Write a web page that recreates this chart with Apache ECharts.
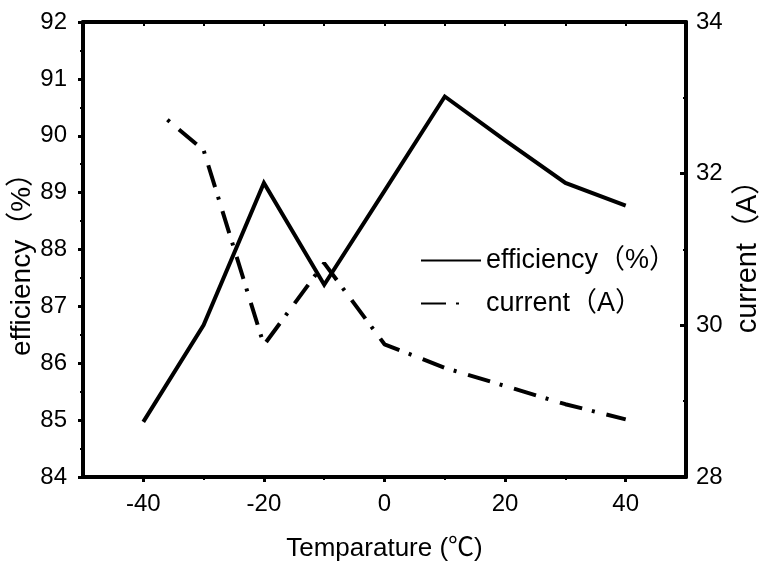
<!DOCTYPE html>
<html><head><meta charset="utf-8">
<script src="https://cdn.jsdelivr.net/npm/echarts@6/dist/echarts.min.js"></script>
<style>html,body{margin:0;padding:0;background:#fff}#c{width:759px;height:563px}</style>
</head><body><div id="c"></div>
<script>
const temperature = [-40, -30, -20, -10, 0, 10, 20, 30, 40];
const efficiency = [84.97, 86.67, 89.17, 87.38, 89.03, 90.69, 89.92, 89.17, 88.77];
const currentTemp = [-36, -30, -20, -10, 0, 10, 20, 30, 40];
const current = [32.71, 32.31, 29.74, 30.82, 29.75, 29.44, 29.20, 28.96, 28.76];
const xMajorTicks = [-40, -20, 0, 20, 40];
const xMinorTicks = [-30, -10, 10, 30];
const seriesNames = ['efficiency（%）', 'current（A）'];
const xTitle = 'Temparature (℃)';

const FONT = "'Liberation Sans', Arial, 'Noto Sans CJK SC', sans-serif";
const chart = echarts.init(document.getElementById('c'), null, {renderer: 'canvas'});
const lineBlack = {color: '#000', width: 4};
chart.setOption({
  animation: false,
  backgroundColor: '#fff',
  textStyle: {fontFamily: FONT, color: '#000'},
  grid: {left: 83, right: 73, top: 22, bottom: 86, containLabel: false, outerBoundsMode: 'none'},
  legend: {
    orient: 'vertical', left: 415, top: 240,
    itemWidth: 60, itemHeight: 20, itemGap: 12,
    data: [
      {name: seriesNames[0]},
      {name: seriesNames[1], lineStyle: {type: [25, 10, 3, 100], dashOffset: 0}}
    ],
    itemStyle: {opacity: 0},
    lineStyle: {dashOffset: 0},
    textStyle: {fontFamily: FONT, fontSize: 27, lineHeight: 31, color: '#000'}
  },
  xAxis: [
    {
      type: 'value', position: 'bottom', min: -50, max: 50, interval: 10,
      name: xTitle, nameLocation: 'middle', nameGap: 59, nameMoveOverlap: false,
      nameTextStyle: {fontFamily: FONT, fontSize: 26, color: '#000'},
      axisLine: {show: true, onZero: false, lineStyle: lineBlack},
      axisTick: {show: true, inside: false, length: 5, lineStyle: {color: '#000', width: 3}, customValues: xMajorTicks},
      axisLabel: {show: true, customValues: xMajorTicks, fontFamily: FONT, fontSize: 24, color: '#000', margin: 15},
      splitLine: {show: false}
    },
    {
      type: 'value', position: 'top', min: -50, max: 50, interval: 10,
      axisLine: {show: true, onZero: false, lineStyle: lineBlack},
      axisTick: {show: true, inside: true, length: 4, lineStyle: {color: '#000', width: 2}, customValues: xMajorTicks.concat(xMinorTicks)},
      axisLabel: {show: false},
      splitLine: {show: false}
    },
    {
      type: 'value', position: 'bottom', min: -50, max: 50, interval: 10,
      axisLine: {show: false, onZero: false},
      axisTick: {show: true, inside: false, length: 3, lineStyle: {color: '#000', width: 2}, customValues: xMinorTicks},
      axisLabel: {show: false},
      splitLine: {show: false}
    }
  ],
  yAxis: [
    {
      type: 'value', position: 'left', min: 84, max: 92, interval: 1,
      name: seriesNames[0], nameLocation: 'middle', nameGap: 47, nameMoveOverlap: false,
      nameTextStyle: {fontFamily: FONT, fontSize: 28, color: '#000', padding: [0, 16, 0, 0]},
      axisLine: {show: true, onZero: false, lineStyle: lineBlack},
      axisTick: {show: true, inside: false, length: 5, lineStyle: {color: '#000', width: 3}},
      minorTick: {show: true, splitNumber: 2, length: 3, lineStyle: {color: '#000', width: 2}},
      axisLabel: {fontFamily: FONT, fontSize: 24, color: '#000', margin: 16},
      splitLine: {show: false}, minorSplitLine: {show: false}
    },
    {
      type: 'value', position: 'right', min: 28, max: 34, interval: 2,
      name: seriesNames[1], nameLocation: 'middle', nameGap: 46,
      nameTextStyle: {fontFamily: FONT, fontSize: 29, color: '#000'},
      axisLine: {show: true, onZero: false, lineStyle: lineBlack},
      axisTick: {show: true, inside: true, length: 6, lineStyle: {color: '#000', width: 3}},
      minorTick: {show: true, splitNumber: 2, length: 3, lineStyle: {color: '#000', width: 2}},
      axisLabel: {fontFamily: FONT, fontSize: 24, color: '#000', margin: 10},
      splitLine: {show: false}, minorSplitLine: {show: false}
    }
  ],
  series: [
    {
      name: seriesNames[0], type: 'line', xAxisIndex: 0, yAxisIndex: 0,
      symbol: 'none', smooth: false,
      lineStyle: {color: '#000', width: 4, type: 'solid', join: 'miter'},
      itemStyle: {color: '#000'},
      data: temperature.map((t, i) => [t, efficiency[i]])
    },
    {
      name: seriesNames[1], type: 'line', xAxisIndex: 0, yAxisIndex: 1,
      symbol: 'none', smooth: false,
      lineStyle: {color: '#000', width: 4, type: [23, 10, 3, 12], dashOffset: 33, cap: 'butt'},
      itemStyle: {color: '#000'},
      data: currentTemp.map((t, i) => [t, current[i]])
    }
  ]
});
</script></body></html>
